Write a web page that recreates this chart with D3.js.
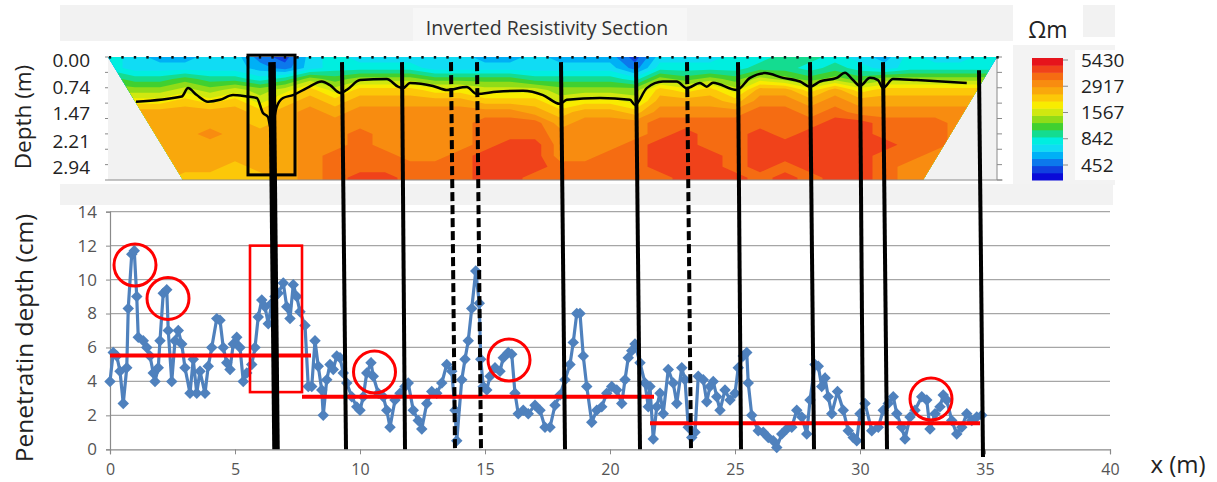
<!DOCTYPE html>
<html>
<head>
<meta charset="utf-8">
<script src="https://cdn.jsdelivr.net/npm/d3@7"></script>
<style>
  body { margin: 0; background: #fff; }
  text { font-family: "Open Sans", sans-serif; }
</style>
</head>
<body>
<div id="container"></div>
<script>
/* penetration depth profile (x in m, depth in cm) */
var pos = [0.0,0.13,0.27,0.4,0.53,0.67,0.73,0.87,0.97,1.07,1.13,1.33,1.47,1.6,1.73,1.8,1.93,2.0,2.13,2.27,2.33,2.47,2.6,2.73,2.87,3.0,3.2,3.33,3.47,3.6,3.8,3.93,4.07,4.27,4.4,4.53,4.67,4.8,4.93,5.07,5.2,5.33,5.47,5.67,5.8,5.93,6.07,6.2,6.33,6.47,6.6,6.73,6.93,7.07,7.2,7.33,7.47,7.6,7.8,7.93,8.07,8.2,8.33,8.47,8.53,8.67,8.8,8.93,9.07,9.2,9.33,9.47,9.67,9.87,10.0,10.13,10.27,10.44,10.53,10.73,10.93,11.07,11.2,11.4,11.6,11.8,11.93,12.13,12.33,12.47,12.67,12.87,13.07,13.27,13.47,13.67,13.8,13.87,14.07,14.2,14.33,14.47,14.63,14.77,14.83,14.93,15.07,15.2,15.4,15.6,15.73,15.93,16.07,16.2,16.33,16.53,16.73,17.0,17.2,17.4,17.6,17.8,18.0,18.2,18.4,18.53,18.67,18.8,18.93,19.07,19.27,19.47,19.67,19.87,20.07,20.27,20.47,20.6,20.73,20.87,21.0,21.2,21.4,21.53,21.6,21.73,21.87,22.0,22.13,22.33,22.53,22.67,22.87,23.0,23.13,23.27,23.4,23.53,23.73,23.87,24.0,24.13,24.27,24.4,24.6,24.8,25.0,25.13,25.33,25.47,25.53,25.67,25.93,26.13,26.33,26.53,26.67,26.87,27.07,27.27,27.47,27.67,27.87,28.0,28.2,28.33,28.47,28.6,28.73,28.87,29.1,29.33,29.53,29.73,29.87,30.0,30.2,30.47,30.73,30.93,31.13,31.33,31.47,31.67,31.8,32.0,32.2,32.47,32.67,32.8,33.0,33.2,33.33,33.47,33.67,33.87,34.07,34.27,34.47,34.67,34.87];
var pen = [4.0,5.7,5.5,4.6,2.7,4.8,8.3,11.5,11.7,9.0,6.6,6.4,6.0,5.5,4.5,4.0,4.8,6.4,9.2,9.4,7.0,4.0,6.4,7.0,6.2,4.8,3.3,5.3,3.3,4.6,3.3,4.9,6.0,7.7,7.6,6.0,5.1,4.7,6.2,6.6,6.0,4.0,4.5,5.0,6.0,7.8,8.8,8.4,7.4,8.6,9.0,9.2,9.8,8.4,7.7,9.7,9.0,8.1,7.3,3.7,3.7,6.4,4.9,3.5,2.0,4.1,5.0,4.7,5.5,5.4,4.5,3.9,3.1,2.5,2.3,3.1,4.5,5.1,4.3,3.3,3.1,2.3,1.3,2.9,3.3,3.7,3.9,2.3,1.7,1.2,2.7,3.4,3.3,3.9,5.0,4.6,2.3,0.5,4.1,5.3,6.4,8.3,10.5,8.6,5.3,3.7,3.5,4.3,4.8,4.6,5.4,5.7,5.6,3.3,2.1,2.3,2.1,2.6,2.3,1.3,1.3,2.6,3.2,4.1,5.0,6.3,8.0,8.0,5.5,3.7,1.6,2.3,2.5,3.3,3.7,3.5,2.7,4.1,5.4,5.8,6.2,5.1,3.9,2.5,3.7,0.6,2.5,3.3,2.1,4.7,3.9,2.7,4.8,4.1,1.3,0.7,1.0,4.3,4.1,2.8,3.7,4.0,3.1,2.3,3.5,2.9,3.3,4.8,5.5,5.7,3.9,2.0,1.1,1.0,0.7,0.5,0.1,0.9,1.2,1.3,2.3,1.9,0.9,2.9,5.0,4.9,3.7,4.2,3.1,2.1,3.4,2.3,1.1,0.7,0.5,2.1,2.7,1.1,1.3,2.3,2.7,3.1,2.1,1.3,0.6,1.9,2.3,3.1,2.9,1.2,2.1,2.5,3.2,2.9,1.7,0.9,1.3,2.1,1.7,1.9,2.0];

/* mean levels (red bars) */
var meanFrom = [0, 7.68, 21.6];
var meanTo   = [8.04, 21.76, 34.8];
var meanVal  = [5.52, 3.1, 1.53];

/* highlighted peaks (red rings) and the red box */
var ringX = [1.0, 2.32, 10.58, 15.96, 32.84];
var ringY = [10.86, 8.89, 4.55, 5.26, 2.96];
var boxX = [5.6, 7.68];
var boxY = [3.37, 12.0];

/* black cuts linking the section to the profile */
var cutTop  = [6.48, 9.28, 11.68, 13.64, 14.68, 18.04, 21.04, 23.08, 25.12, 28.0, 30.0, 30.92, 34.76];
var cutBot  = [6.64, 9.44, 11.8, 13.8, 14.84, 18.2, 21.2, 23.24, 25.24, 28.16, 30.12, 31.08, 34.92];
var cutKind = ["thick","solid","solid","dash","dash","solid","solid","dash","solid","solid","solid","solid","solid"];
var cutTopDepth = [0.14,0.14,0.14,0.14,0.14,0.14,0.14,0.14,0.14,0.14,0.14,0.14,0.36];
var cutBotCm    = [0,0,0,0,0,0,0,0,0,0,0,0,-0.45];

/* black boundary inside the resistivity section (x m, depth m) */
var lineX = [1.04,2.87,3.12,3.47,3.92,4.4,4.92,5.47,5.87,6.12,6.32,6.44,6.67,6.92,7.32,7.87,8.47,8.8,9.2,9.47,10.0,11.07,11.52,11.72,12.0,12.92,13.47,14.27,14.67,15.47,16.52,17.32,18.0,18.27,19.6,20.8,21.0,21.47,22.12,22.67,23.07,23.6,23.87,24.12,25.07,25.6,26.2,26.92,27.6,28.0,28.4,29.07,29.4,29.72,30.0,30.4,30.72,30.92,31.32,32.27,34.27];
var lineZ = [1.22,1.08,0.85,1.04,1.22,1.17,1.04,1.08,1.12,1.53,1.64,1.99,1.36,1.12,1.04,0.85,0.67,0.77,0.98,0.9,0.63,0.6,0.81,0.85,0.71,0.79,0.9,0.82,1.01,0.95,0.92,1.04,1.28,1.17,1.12,1.17,1.31,0.85,0.67,0.67,0.85,0.71,0.81,0.7,0.9,0.57,0.44,0.57,0.67,0.81,0.67,0.57,0.43,0.63,0.79,0.57,0.63,0.85,0.6,0.63,0.71];

/* inverted resistivity grid: colour class per node (0 = 452 Ωm side .. g = 5430 Ωm side)
   columns x = -1..36 m (1 m apart), rows depth = 0, 0.3, ... 3.6 m */
var gridX0 = -1, gridDX = 1, gridDZ = 0.3;
var rhoRows = [
  "55433442145444443343331444556654354455",
  "55444443245555444444442555566565455555",
  "77667665687888777766665878798787888888",
  "888898989b9bbbaa9998888bab9ccacabbbbbb",
  "aaaabab9bcbcccccbbb9aa9cccbddcdccccccc",
  "cccccccbcdcdddddddcbccbddddeededdddddd",
  "cccccccbcdddddddeeecdddeeeeeeeffeeeddd",
  "cccccdcccddeddddeeeddddefeefefffeeeddd",
  "cccccccccddeddddeffdddeffeeffffffeeddd",
  "cccccccccdeeeddefffddeefffefffffeedddd",
  "ccccccbccdeeeeeefffeeeefffefefffeddddd",
  "ccccbbbbcdeffeeeffeeeeeefffefeffeddddd",
  "ccccbbbbcdeffeeeffeeeeeefffefeffeddddd"
];
var bandColors = ["#0a0ad8","#1040e0","#0c78ec","#00b0f6","#10dcf4","#00eee0","#14dc90","#40d030","#90dc18","#d0e810",
                  "#f8ec00","#fcc808","#f9a80c","#f88c10","#f56c12","#f0421a","#e6141c"];
var barTicks = [5430, 2917, 1567, 842, 452];
var depthTicks = [0, 0.74, 1.47, 2.21, 2.94];
var xTicks = [0, 5, 10, 15, 20, 25, 30, 35, 40];
var yTicks = [0, 2, 4, 6, 8, 10, 12, 14];

/* setup the dimensions and scales */
var width = 1217, height = 482;
var x  = d3.scaleLinear().domain([0, 40]).range([110, 1110]);
var y  = d3.scaleLinear().domain([0, 14]).range([449.3, 211.7]);
var yD = d3.scaleLinear().domain([0, 3.36]).range([57, 180]);
var yC = d3.scaleLog().domain([452, 5430]).range([165, 60]);

var svg = d3.select("#container")
            .append("svg")
            .attr("width", width)
            .attr("height", height);

/* light grey panels behind the picture parts */
function panel(x0, y0, w, h, c) {
  svg.append("rect").attr("x", x0).attr("y", y0).attr("width", w).attr("height", h).attr("fill", c);
}
panel(60, 5, 953, 36, "#f2f2f2");
panel(413, 8, 274, 33, "#f7f7f7");
panel(1083, 5, 32, 32, "#f2f2f2");
panel(1013, 45, 102, 140, "#f3f3f3");
panel(1075, 50, 55, 130, "#fdfdfd");
panel(60, 184, 1053, 21, "#f2f2f2");

/* title and colour bar captions */
svg.append("text").attr("x", 547).attr("y", 35).attr("text-anchor", "middle")
   .attr("font-size", 19.5).attr("fill", "#333").text("Inverted Resistivity Section");
svg.append("text").attr("x", 1048).attr("y", 38).attr("text-anchor", "middle")
   .attr("font-size", 23).attr("fill", "#222").text("Ωm");

/* resistivity section */
var sec = svg.append("g");
sec.append("rect")
   .attr("x", x(-0.08)).attr("y", yD(0))
   .attr("width", x(35.48) - x(-0.08)).attr("height", yD(3.36) - yD(0))
   .attr("fill", "#f2f2f2");

var trap = [[-0.08, 0], [35.48, 0], [32.52, 3.36], [2.92, 3.36]];
svg.append("clipPath").attr("id", "trap")
   .append("path")
   .attr("d", "M" + trap.map(function(p) { return [x(p[0]), yD(p[1])]; }).join("L") + "Z");

var nx = rhoRows[0].length, nz = rhoRows.length;
var vals = [];
rhoRows.forEach(function(r) {
  for (var i = 0; i < nx; ++i) vals.push(parseInt(r[i], 17));
});
var bands = d3.contours().size([nx, nz]).thresholds(d3.range(0.5, 16.5, 1))(vals);
var gridProj = d3.geoTransform({
  point: function(gx, gz) {
    this.stream.point(x(gridX0 + (gx - 0.5) * gridDX), yD((gz - 0.5) * gridDZ));
  }
});
sec.append("g").attr("clip-path", "url(#trap)")
   .selectAll("path")
   .data(bands)
   .enter().append("path")
     .attr("d", d3.geoPath(gridProj))
     .attr("fill", function(d) { return bandColors[Math.round(d.value + 0.5)]; });

sec.append("path")
   .datum(lineX.map(function(v, i) { return [v, lineZ[i]]; }))
   .attr("d", d3.line().x(function(d) { return x(d[0]); }).y(function(d) { return yD(d[1]); }).curve(d3.curveMonotoneX))
   .attr("fill", "none").attr("stroke", "#000").attr("stroke-width", 2.5);

/* section frame: bottom line, depth axis ticks, electrodes */
sec.append("line").attr("x1", x(-0.08)).attr("x2", x(35.7)).attr("y1", yD(3.36)).attr("y2", yD(3.36))
   .attr("stroke", "#8a8a8a").attr("stroke-width", 1.2);
sec.append("line").attr("x1", x(35.48)).attr("x2", x(35.48)).attr("y1", yD(0)).attr("y2", yD(3.36))
   .attr("stroke", "#8a8a8a").attr("stroke-width", 1);
sec.selectAll(".dtick")
   .data(d3.range(0, 3.4, 0.42))
   .enter().append("line")
     .attr("x1", x(35.48)).attr("x2", x(35.48) + 5)
     .attr("y1", function(d) { return yD(d); }).attr("y2", function(d) { return yD(d); })
     .attr("stroke", "#8a8a8a");
sec.selectAll(".ltick")
   .data(d3.range(0, 3.4, 0.42))
   .enter().append("line")
     .attr("x1", x(-0.08)).attr("x2", x(-0.08) - 3)
     .attr("y1", function(d) { return yD(d); }).attr("y2", function(d) { return yD(d); })
     .attr("stroke", "#8a8a8a");
sec.selectAll(".electrode")
   .data(d3.range(0, 35.6, 0.5))
   .enter().append("rect")
     .attr("x", function(d) { return x(d) - 1.2; }).attr("y", yD(0) - 1)
     .attr("width", 2.4).attr("height", 2.6).attr("fill", "#111");

sec.append("rect")
   .attr("x", x(5.52)).attr("y", yD(-0.05))
   .attr("width", x(7.4) - x(5.52)).attr("height", yD(3.22) - yD(-0.05))
   .attr("fill", "none").attr("stroke", "#000").attr("stroke-width", 3);

/* depth labels */
svg.selectAll(".dlab")
   .data(depthTicks)
   .enter().append("text")
     .attr("x", 90).attr("y", function(d) { return yD(d) + 3; })
     .attr("dy", "0.35em").attr("text-anchor", "end")
     .attr("font-size", 19).attr("fill", "#222")
     .text(function(d) { return d.toFixed(2); });
svg.append("text")
   .attr("transform", "translate(31,117) rotate(-90)")
   .attr("text-anchor", "middle").attr("font-size", 22.5).attr("fill", "#222")
   .text("Depth (m)");

/* colour bar */
var bandY = d3.scaleBand().domain(d3.range(bandColors.length).reverse()).range([58, 180]);
svg.selectAll(".band")
   .data(d3.range(bandColors.length))
   .enter().append("rect")
     .attr("x", 1032).attr("width", 31)
     .attr("y", function(d) { return bandY(d); })
     .attr("height", bandY.bandwidth() + 0.5)
     .attr("fill", function(d) { return bandColors[d]; });
svg.selectAll(".btick")
   .data(barTicks)
   .enter().append("line")
     .attr("x1", 1063).attr("x2", 1068)
     .attr("y1", function(d) { return yC(d); }).attr("y2", function(d) { return yC(d); })
     .attr("stroke", "#888");
svg.selectAll(".blab")
   .data(barTicks)
   .enter().append("text")
     .attr("x", 1081).attr("y", function(d) { return yC(d); })
     .attr("dy", "0.35em").attr("font-size", 19).attr("fill", "#222")
     .text(function(d) { return d; });

/* profile chart: grid and axes */
var g = svg.append("g");
g.selectAll(".grid")
 .data(yTicks.slice(1))
 .enter().append("line")
   .attr("x1", x(0)).attr("x2", x(40))
   .attr("y1", function(d) { return y(d); }).attr("y2", function(d) { return y(d); })
   .attr("stroke", "#a6a6a6").attr("stroke-width", 1.2);

g.append("g")
 .attr("transform", "translate(0," + y(0) + ")")
 .call(d3.axisBottom(x).tickValues(xTicks).tickSize(5).tickPadding(9))
 .call(function(a) {
   a.select(".domain").attr("stroke", "#8a8a8a").attr("stroke-width", 1.2);
   a.selectAll("line").attr("stroke", "#8a8a8a");
   a.selectAll("text").attr("font-size", 16).attr("fill", "#555").attr("font-family", "Open Sans");
 });
g.append("g")
 .attr("transform", "translate(" + x(0) + ",0)")
 .call(d3.axisLeft(y).tickValues(yTicks).tickSize(4).tickPadding(9))
 .call(function(a) {
   a.select(".domain").attr("stroke", "#8a8a8a").attr("stroke-width", 1.2);
   a.selectAll("line").attr("stroke", "#8a8a8a");
   a.selectAll("text").attr("font-size", 17).attr("fill", "#555").attr("font-family", "Open Sans");
 });

svg.append("text")
   .attr("transform", "translate(33,338) rotate(-90)")
   .attr("text-anchor", "middle").attr("font-size", 24.5).attr("fill", "#222")
   .text("Penetratin depth (cm)");
svg.append("text")
   .attr("x", 1178).attr("y", 473).attr("text-anchor", "middle")
   .attr("font-size", 24).attr("fill", "#222")
   .text("x (m)");

/* blue series */
g.append("path")
 .datum(pos.map(function(v, i) { return [v, pen[i]]; }))
 .attr("d", d3.line().x(function(d) { return x(d[0]); }).y(function(d) { return y(d[1]); }))
 .attr("fill", "none").attr("stroke", "#4f81bd").attr("stroke-width", 3.2);
g.selectAll(".pt")
 .data(pos)
 .enter().append("path")
   .attr("d", d3.symbol().type(d3.symbolSquare).size(66))
   .attr("transform", function(d, i) { return "translate(" + x(d) + "," + y(pen[i]) + ") rotate(45)"; })
   .attr("fill", "#4f81bd");

/* red annotations */
g.selectAll(".mean")
 .data(meanVal)
 .enter().append("line")
   .attr("x1", function(d, i) { return x(meanFrom[i]); })
   .attr("x2", function(d, i) { return x(meanTo[i]); })
   .attr("y1", function(d) { return y(d); }).attr("y2", function(d) { return y(d); })
   .attr("stroke", "#ff0000").attr("stroke-width", 4);
g.selectAll(".ring")
 .data(ringX)
 .enter().append("circle")
   .attr("cx", function(d) { return x(d); })
   .attr("cy", function(d, i) { return y(ringY[i]); })
   .attr("r", 21)
   .attr("fill", "none").attr("stroke", "#ff0000").attr("stroke-width", 3);
g.append("rect")
 .attr("x", x(boxX[0])).attr("y", y(boxY[1]))
 .attr("width", x(boxX[1]) - x(boxX[0])).attr("height", y(boxY[0]) - y(boxY[1]))
 .attr("fill", "none").attr("stroke", "#ff0000").attr("stroke-width", 2.6);

/* black cut lines across both panels */
svg.selectAll(".cut")
   .data(cutTop)
   .enter().append("line")
     .attr("x1", function(d) { return x(d); })
     .attr("y1", function(d, i) { return yD(cutTopDepth[i]); })
     .attr("x2", function(d, i) { return x(cutBot[i]); })
     .attr("y2", function(d, i) { return y(cutBotCm[i]); })
     .attr("stroke", "#000")
     .attr("stroke-width", function(d, i) { return cutKind[i] === "thick" ? 7.5 : 4; })
     .attr("stroke-dasharray", function(d, i) { return cutKind[i] === "dash" ? "9,4" : null; });
</script>
</body>
</html>
